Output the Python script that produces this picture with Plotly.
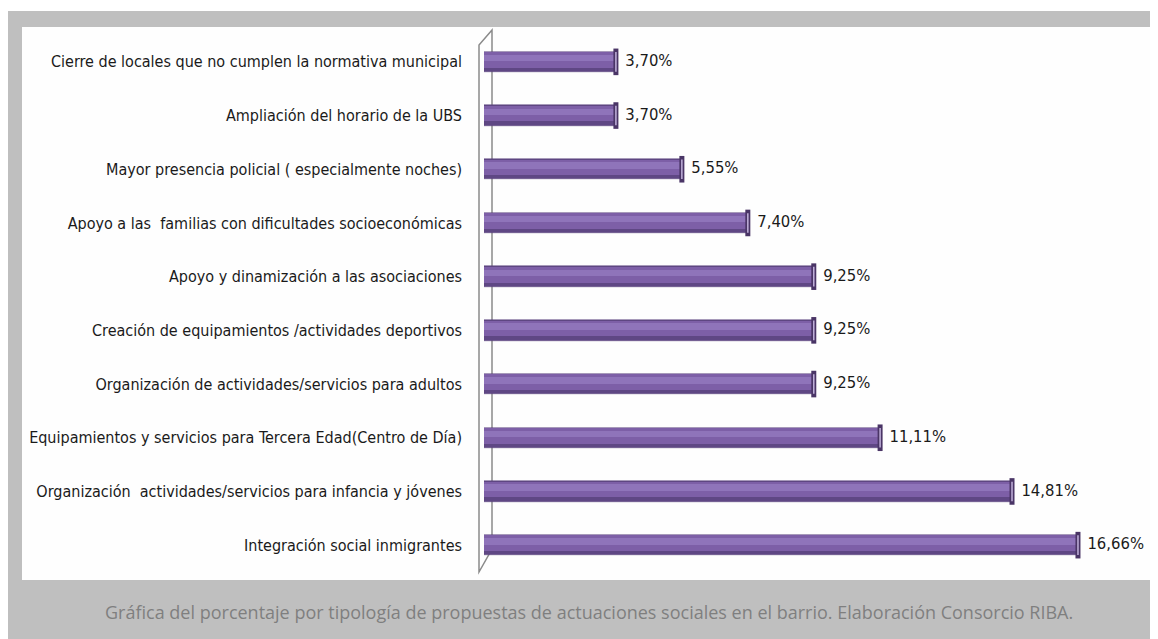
import plotly.graph_objects as go

categories = [
    "Cierre de locales que no cumplen la normativa municipal",
    "Ampliación del horario de la UBS",
    "Mayor presencia policial ( especialmente noches)",
    "Apoyo a las  familias con dificultades socioeconómicas",
    "Apoyo y dinamización a las asociaciones",
    "Creación de equipamientos /actividades deportivos",
    "Organización de actividades/servicios para adultos",
    "Equipamientos y servicios para Tercera Edad(Centro de Día)",
    "Organización  actividades/servicios para infancia y jóvenes",
    "Integración social inmigrantes",
]
values = [3.70, 3.70, 5.55, 7.40, 9.25, 9.25, 9.25, 11.11, 14.81, 16.66]
value_labels = [f"{v:.2f}".replace(".", ",") + "%" for v in values]
caption = ("Gráfica del porcentaje por tipología de propuestas de actuaciones "
           "sociales en el barrio. Elaboración Consorcio RIBA.")

# page has an 8px body margin: figure sits at (8, 8)
OFF = 8
W, H = 1150, 631
def px(x):
    return (x - OFF) / W
def py(y):
    return 1 - (y - OFF) / H

narrow = "DejaVu Sans Condensed, DejaVu Sans, sans-serif"

fig = go.Figure()
# dark base of the cylinder
fig.add_trace(go.Bar(
    x=values, y=categories, orientation="h", width=0.38,
    marker=dict(color="#5f4784", line=dict(color="#5a437c", width=0.5)),
    hoverinfo="skip", showlegend=False,
))
# main body
fig.add_trace(go.Bar(
    x=values, y=categories, orientation="h", width=0.29, offset=-0.18,
    marker=dict(color="#7d5fa7", line=dict(width=0)),
    hoverinfo="skip", showlegend=False,
))
# highlight
fig.add_trace(go.Bar(
    x=values, y=categories, orientation="h", width=0.12, offset=-0.13,
    marker=dict(color="#8f74ba", line=dict(width=0)),
    hoverinfo="skip", showlegend=False,
))
# end caps
fig.add_trace(go.Scatter(
    x=values, y=categories, mode="markers",
    marker=dict(symbol="line-ns-open", size=19, color="#4a3566",
                line=dict(color="#4a3566", width=5)),
    hoverinfo="skip", showlegend=False, cliponaxis=False,
))
fig.add_trace(go.Scatter(
    x=values, y=categories, mode="markers",
    marker=dict(symbol="line-ns-open", size=14, color="#c2b2dc",
                line=dict(color="#c2b2dc", width=1.5)),
    hoverinfo="skip", showlegend=False, cliponaxis=False,
))
# value labels
fig.add_trace(go.Scatter(
    x=values, y=categories, mode="text",
    text=["  " + t for t in value_labels], textposition="middle right",
    textfont=dict(family=narrow, size=16.5, color="#1a1a1a"),
    hoverinfo="skip", showlegend=False, cliponaxis=False,
))

shapes = [
    dict(type="rect", xref="paper", yref="paper", x0=px(6), x1=px(1170),
         y0=py(660), y1=py(11), fillcolor="#bfbfbf", line=dict(width=0),
         layer="below"),
    dict(type="rect", xref="paper", yref="paper", x0=px(22), x1=px(1151),
         y0=py(580), y1=py(27), fillcolor="#fefefe", line=dict(width=0),
         layer="below"),
    dict(type="path", xref="paper", yref="paper",
         path=(f"M {px(479)},{py(572)} L {px(479)},{py(45)} L {px(492)},{py(30)} "
               f"L {px(492)},{py(549)} Z"),
         line=dict(color="#8a8a8a", width=1.5), fillcolor="rgba(0,0,0,0)",
         layer="below"),
]

fig.update_layout(
    width=W, height=H,
    margin=dict(l=0, r=0, t=0, b=0, autoexpand=False),
    paper_bgcolor="#ffffff", plot_bgcolor="rgba(0,0,0,0)",
    barmode="overlay", bargap=0,
    shapes=shapes,
    xaxis=dict(domain=[px(484), px(1140)], range=[0, 18.4], showgrid=False,
               zeroline=False, showticklabels=False, showline=False, ticks="",
               automargin=False),
    yaxis=dict(domain=[py(572), py(35)], range=[len(categories) - 0.5, -0.5],
               autorange=False, showgrid=False,
               zeroline=False, showline=False, ticks="", automargin=False,
               ticklabelstandoff=21,
               tickfont=dict(family=narrow, size=16, color="#1a1a1a")),
    annotations=[dict(
        text=caption, xref="paper", yref="paper", x=px(589), y=py(612),
        xanchor="center", yanchor="middle", showarrow=False,
        font=dict(family="Open Sans, sans-serif", size=18, color="#7f7f7f"),
    )],
)

fig.write_html("out.html")
